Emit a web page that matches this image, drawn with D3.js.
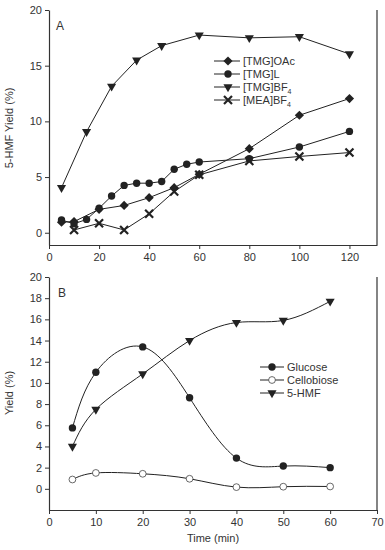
<!DOCTYPE html>
<html>
<head>
<meta charset="utf-8">
<script src="https://cdn.jsdelivr.net/npm/d3@7"></script>
<style>
  body { margin: 0; background: #fff; }
  svg { font-family: "Liberation Sans", Arial, sans-serif; }
</style>
</head>
<body>
<div id="chart"></div>
<script>
// Panel A data
const timeOAc = [5, 10, 20, 30, 40, 50, 60, 80, 100, 120];
const yieldOAc = [0.95, 1.0, 2.1, 2.45, 3.15, 4.05, 5.25, 7.55, 10.55, 12.05];
const timeL = [5, 10, 15, 20, 25, 30, 35, 40, 45, 50, 55, 60, 80, 100, 120];
const yieldL = [1.15, 0.8, 1.2, 2.2, 3.3, 4.25, 4.45, 4.45, 4.6, 5.7, 6.15, 6.35, 6.65, 7.7, 9.1];
const timeBF4 = [5, 15, 25, 35, 45, 60, 80, 100, 120];
const yieldBF4 = [4.05, 9.07, 13.15, 15.5, 16.8, 17.75, 17.5, 17.6, 16.05];
const timeMEA = [10, 20, 30, 40, 50, 60, 80, 100, 120];
const yieldMEA = [0.25, 0.85, 0.25, 1.7, 3.7, 5.2, 6.45, 6.85, 7.2];
const namesA = ["[TMG]OAc", "[TMG]L", "[TMG]BF", "[MEA]BF"];

// Panel B data
const timeB = [5, 10, 20, 30, 40, 50, 60];
const glucose = [5.75, 11.0, 13.4, 8.6, 2.9, 2.15, 2.0];
const cellobiose = [0.88, 1.5, 1.42, 0.95, 0.16, 0.2, 0.22];
const hmf = [4.0, 7.5, 10.85, 14.0, 15.7, 15.9, 17.7];
const namesB = ["Glucose", "Cellobiose", "5-HMF"];

const width = 385, height = 550;
const ink = "#222";

const svg = d3.select("#chart").append("svg")
    .attr("width", width)
    .attr("height", height);

// draws a marker of the given kind at (x, y)
function marker(g, kind, x, y) {
    if (kind === "diamond") {
        g.append("path")
            .attr("d", "M0,-4.6L4.6,0L0,4.6L-4.6,0Z")
            .attr("transform", `translate(${x},${y})`)
            .attr("fill", ink);
    } else if (kind === "circle") {
        g.append("circle").attr("cx", x).attr("cy", y).attr("r", 3.7).attr("fill", ink);
    } else if (kind === "open") {
        g.append("circle").attr("cx", x).attr("cy", y).attr("r", 3.4)
            .attr("fill", "#fff").attr("stroke", "#444").attr("stroke-width", 0.8);
    } else if (kind === "tri") {
        g.append("path")
            .attr("d", d3.symbol(d3.symbolTriangle, 36)())
            .attr("transform", `translate(${x},${y}) rotate(180)`)
            .attr("fill", ink);
    } else if (kind === "cross") {
        g.append("path")
            .attr("d", "M-4,-4L4,4M-4,4L4,-4")
            .attr("transform", `translate(${x},${y})`)
            .attr("stroke", ink).attr("stroke-width", 2.2).attr("fill", "none");
    }
}

function frame(x, y, xTicks, yTicks, x0, x1, y0, y1) {
    const g = svg.append("g");
    const xAxis = g.append("g")
        .attr("transform", `translate(0,${y0})`)
        .call(d3.axisBottom(x).tickValues(xTicks).tickSize(4).tickPadding(4).tickSizeOuter(0));
    const yAxis = g.append("g")
        .attr("transform", `translate(${x0},0)`)
        .call(d3.axisLeft(y).tickValues(yTicks).tickSize(4).tickPadding(3).tickSizeOuter(0));
    [xAxis, yAxis].forEach(a => {
        a.select(".domain").attr("stroke", "#333").attr("stroke-width", 1.2);
        a.selectAll(".tick line").attr("stroke", "#333");
        a.selectAll(".tick text").attr("fill", "#333").style("font-size", "11px");
    });
    g.append("line")
        .attr("x1", x1).attr("x2", x1)
        .attr("y1", y1).attr("y2", y0)
        .attr("stroke", "#333").attr("stroke-width", 1.2);
}

// ---------- Panel A ----------
const xA = d3.scaleLinear().domain([0, 131]).range([49, 377]);
const yA = d3.scaleLinear().domain([-1.1, 20]).range([245, 10]);
frame(xA, yA, [0, 20, 40, 60, 80, 100, 120], [0, 5, 10, 15, 20], 49, 377, 245, 10);

const seriesA = [
    { t: timeOAc, v: yieldOAc, kind: "diamond" },
    { t: timeL, v: yieldL, kind: "circle" },
    { t: timeBF4, v: yieldBF4, kind: "tri" },
    { t: timeMEA, v: yieldMEA, kind: "cross" }
];
const lineA = d3.line().x(d => xA(d[0])).y(d => yA(d[1]));
const gA = svg.append("g");
seriesA.forEach(s => {
    const pts = s.t.map((t, i) => [t, s.v[i]]);
    gA.append("path").attr("d", lineA(pts))
        .attr("fill", "none").attr("stroke", ink).attr("stroke-width", 1);
});
seriesA.forEach(s => {
    s.t.forEach((t, i) => marker(gA, s.kind, xA(t), yA(s.v[i])));
});

svg.append("text").attr("x", 56).attr("y", 30).text("A")
    .style("font-size", "12px").attr("fill", "#333");
svg.append("text")
    .attr("transform", "translate(13,128) rotate(-90)")
    .attr("text-anchor", "middle")
    .style("font-size", "11px").attr("fill", "#333")
    .text("5-HMF Yield (%)");

// legend A
const legA = svg.append("g");
seriesA.forEach((s, i) => {
    const ly = 61 + i * 13;
    legA.append("line").attr("x1", 214).attr("x2", 240).attr("y1", ly).attr("y2", ly)
        .attr("stroke", ink).attr("stroke-width", 1);
    marker(legA, s.kind, 228, ly);
    const txt = legA.append("text").attr("x", 243).attr("y", ly + 4)
        .style("font-size", "11px").attr("fill", "#333").text(namesA[i]);
    if (i >= 2) {
        txt.append("tspan").attr("dy", 3).style("font-size", "7px").text("4");
    }
});

// ---------- Panel B ----------
const xB = d3.scaleLinear().domain([0, 70]).range([49, 377]);
const yB = d3.scaleLinear().domain([-2, 20]).range([510, 277]);
frame(xB, yB, [0, 10, 20, 30, 40, 50, 60, 70], d3.range(0, 21, 2), 49, 377, 510, 277);

const seriesB = [
    { v: glucose, kind: "circle" },
    { v: cellobiose, kind: "open" },
    { v: hmf, kind: "tri" }
];
const lineB = d3.line().x(d => xB(d[0])).y(d => yB(d[1])).curve(d3.curveNatural);
const gB = svg.append("g");
seriesB.forEach(s => {
    const pts = timeB.map((t, i) => [t, s.v[i]]);
    gB.append("path").attr("d", lineB(pts))
        .attr("fill", "none").attr("stroke", ink).attr("stroke-width", 1);
});
seriesB.forEach(s => {
    timeB.forEach((t, i) => marker(gB, s.kind, xB(t), yB(s.v[i])));
});

svg.append("text").attr("x", 58).attr("y", 297).text("B")
    .style("font-size", "12px").attr("fill", "#333");
svg.append("text")
    .attr("transform", "translate(13,393) rotate(-90)")
    .attr("text-anchor", "middle")
    .style("font-size", "11px").attr("fill", "#333")
    .text("Yield (%)");
svg.append("text")
    .attr("x", 213).attr("y", 542)
    .attr("text-anchor", "middle")
    .style("font-size", "11px").attr("fill", "#333")
    .text("Time (min)");

// legend B
const legB = svg.append("g");
seriesB.forEach((s, i) => {
    const ly = 367 + i * 13;
    legB.append("line").attr("x1", 260).attr("x2", 284).attr("y1", ly).attr("y2", ly)
        .attr("stroke", ink).attr("stroke-width", 1);
    marker(legB, s.kind, 272, ly);
    legB.append("text").attr("x", 287).attr("y", ly + 4)
        .style("font-size", "11px").attr("fill", "#333").text(namesB[i]);
});
</script>
</body>
</html>
